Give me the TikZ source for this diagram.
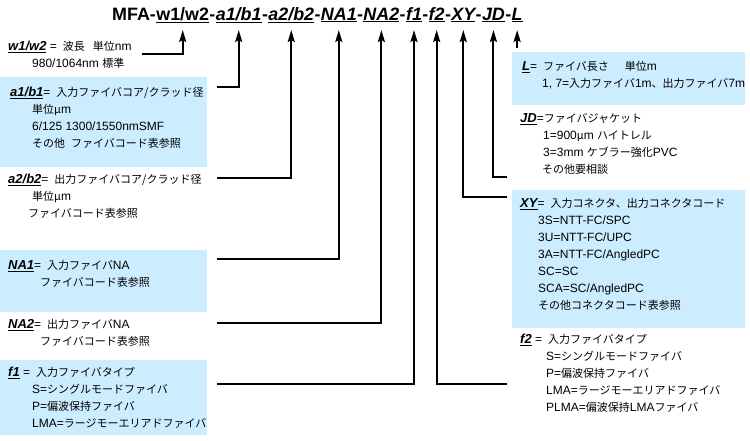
\documentclass[tikz,border=0pt]{standalone}
\usepackage{fontspec}
\setmainfont{Liberation Sans}
\newfontfamily\jpfont{Noto Sans CJK JP}
\usetikzlibrary{
    positioning,
    arrows.meta
}
\definecolor{boxblue}{RGB}{204,236,255}
\newcommand{\Lab}[1]{{\fontsize{13}{17}\selectfont\bfseries\itshape\underline{#1}}}
\newcommand{\J}[1]{{\jpfont\fontsize{11}{17}\selectfont #1}}

\begin{document}
\begin{tikzpicture}[x=1pt,y=-1pt,
  ttl/.style={font=\bfseries\fontsize{17.9}{18}\selectfont,inner sep=0pt},
  desc/.style={anchor=north west,inner sep=0pt,align=left,font=\fontsize{12}{17}\selectfont},
  conn/.style={line width=2pt,-{Stealth[length=12pt,width=7pt,inset=2pt]}}]
\useasboundingbox (0,0) rectangle (750,440);

% blue boxes
\fill[boxblue] (0,77) rectangle (207,167);
\fill[boxblue] (0,250) rectangle (207,312);
\fill[boxblue] (0,360) rectangle (207,435);
\fill[boxblue] (512,52) rectangle (745,105);
\fill[boxblue] (512,190) rectangle (745,328);

% product code
\node[ttl,anchor=base west] (tmfa) at (112,20) {MFA-};
\node[ttl,base right=0pt of tmfa] (tw) {\underline{w1/w2}};
\node[ttl,base right=0pt of tw] (d1) {-};
\node[ttl,base right=0pt of d1] (ta1) {\itshape\underline{a1/b1}};
\node[ttl,base right=0pt of ta1] (d2) {-};
\node[ttl,base right=0pt of d2] (ta2) {\itshape\underline{a2/b2}};
\node[ttl,base right=0pt of ta2] (d3) {-};
\node[ttl,base right=0pt of d3] (tna1) {\itshape\underline{NA1}};
\node[ttl,base right=0pt of tna1] (d4) {-};
\node[ttl,base right=0pt of d4] (tna2) {\itshape\underline{NA2}};
\node[ttl,base right=0pt of tna2] (d5) {-};
\node[ttl,base right=0pt of d5] (tf1) {\itshape\underline{f1}};
\node[ttl,base right=0pt of tf1] (d6) {-};
\node[ttl,base right=0pt of d6] (tf2) {\itshape\underline{f2}};
\node[ttl,base right=0pt of tf2] (d7) {-};
\node[ttl,base right=0pt of d7] (txy) {\itshape\underline{XY}};
\node[ttl,base right=0pt of txy] (d8) {-};
\node[ttl,base right=0pt of d8] (tjd) {\itshape\underline{JD}};
\node[ttl,base right=0pt of tjd] (d9) {-};
\node[ttl,base right=0pt of d9] (tl) {\itshape\underline{L}};

% left column
\node[desc] (dw) at (8,41) {\Lab{w1/w2} =\enspace\J{波長}\hspace{8pt}\J{単位}nm\\
  \hspace*{24pt}980/1064nm \J{標準}};
\node[desc] (da1) at (10,87) {\Lab{a1/b1}=\enspace\J{入力ファイバコア/クラッド径}\\
  \hspace*{22pt}\J{単位μ}m\\
  \hspace*{22pt}6/125 1300/1550nmSMF\\
  \hspace*{22pt}\J{その他}\enspace\J{ファイバコード表参照}};
\node[desc] (da2) at (8,174) {\Lab{a2/b2}=\enspace\J{出力ファイバコア/クラッド径}\\
  \hspace*{24pt}\J{単位μ}m\\
  \hspace*{20pt}\J{ファイバコード表参照}};
\node[desc] (dna1) at (8,260) {\Lab{NA1}=\enspace\J{入力ファイバ}NA\\
  \hspace*{32pt}\J{ファイバコード表参照}};
\node[desc] (dna2) at (8,319) {\Lab{NA2}=\enspace\J{出力ファイバ}NA\\
  \hspace*{32pt}\J{ファイバコード表参照}};
\node[desc] (df1) at (8,367) {\Lab{f1} =\enspace\J{入力ファイバタイプ}\\
  \hspace*{24pt}S=\J{シングルモードファイバ}\\
  \hspace*{24pt}P=\J{偏波保持ファイバ}\\
  \hspace*{24pt}LMA=\J{ラージモーエリアドファイバ}};

% right column
\node[desc] (dl) at (522,61) {\Lab{L}=\enspace\J{ファイバ長さ}\hspace{16pt}\J{単位}m\\
  \hspace*{20pt}1, 7=\J{入力ファイバ}1m\J{、出力ファイバ}7m};
\node[desc] (djd) at (520,113) {\Lab{JD}=\J{ファイバジャケット}\\
  \hspace*{23pt}1=900\J{μ}m \J{ハイトレル}\\
  \hspace*{23pt}3=3mm \J{ケブラー強化}PVC\\
  \hspace*{22pt}\J{その他要相談}};
\node[desc] (dxy) at (520,198) {\Lab{XY}=\enspace\J{入力コネクタ、出力コネクタコード}\\
  \hspace*{18pt}3S=NTT-FC/SPC\\
  \hspace*{18pt}3U=NTT-FC/UPC\\
  \hspace*{18pt}3A=NTT-FC/AngledPC\\
  \hspace*{18pt}SC=SC\\
  \hspace*{18pt}SCA=SC/AngledPC\\
  \hspace*{18pt}\J{その他コネクタコード表参照}};
\node[desc] (df2) at (520,334) {\Lab{f2} =\enspace\J{入力ファイバタイプ}\\
  \hspace*{26pt}S=\J{シングルモードファイバ}\\
  \hspace*{26pt}P=\J{偏波保持ファイバ}\\
  \hspace*{26pt}LMA=\J{ラージモーエリアドファイバ}\\
  \hspace*{26pt}PLMA=\J{偏波保持}LMA\J{ファイバ}};

% leader lines
\coordinate (cw) at (142,54);
\coordinate (ca1) at (217,87);
\coordinate (ca2) at (217,178);
\coordinate (cna1) at (217,259);
\coordinate (cna2) at (217,323);
\coordinate (cf1) at (217,384);
\coordinate (cf2) at (507,384);
\coordinate (cxy) at (507,197);
\coordinate (cjd) at (507,177);
\coordinate (cl) at ([yshift=-28pt]tl.base);

\draw[conn] (cw) -| ([yshift=-10pt]tw.base);
\draw[conn] (ca1) -| ([yshift=-10pt]ta1.base);
\draw[conn] (ca2) -| ([yshift=-10pt]ta2.base);
\draw[conn] (cna1) -| ([yshift=-10pt]tna1.base);
\draw[conn] (cna2) -| ([yshift=-10pt]tna2.base);
\draw[conn] (cf1) -| ([yshift=-10pt]tf1.base);
\draw[conn] (cf2) -| ([yshift=-10pt]tf2.base);
\draw[conn] (cxy) -| ([yshift=-10pt]txy.base);
\draw[conn] (cjd) -| ([yshift=-10pt]tjd.base);
\draw[conn] (cl) -- ([yshift=-10pt]tl.base);
\end{tikzpicture}
\end{document}
